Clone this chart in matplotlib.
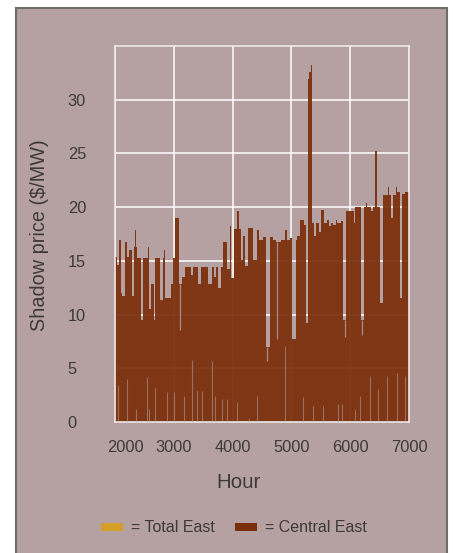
import numpy as np
import matplotlib
matplotlib.use("Agg")
import matplotlib.pyplot as plt
from matplotlib.patches import Rectangle
from matplotlib.transforms import ScaledTranslation

# hour at which each block starts, and the shadow price of Central East over that block
hours = [2000, 2028, 2062, 2102, 2119, 2164, 2210, 2244, 2289, 2323, 2346, 2357,
         2380, 2436, 2482, 2561, 2584, 2618, 2663, 2686, 2771, 2810, 2833, 2844,
         2856, 2946, 2980, 3014, 3094, 3139, 3184, 3298, 3320, 3411, 3468, 3581,
         3649, 3683, 3717, 3751, 3808, 3842, 3910, 3955, 3978, 4023, 4080, 4102,
         4148, 4176, 4216, 4261, 4352, 4420, 4454, 4510, 4561, 4635, 4692, 4737,
         4816, 4884, 4930, 4975, 5015, 5071, 5100, 5145, 5213, 5247, 5281, 5303,
         5332, 5349, 5383, 5411, 5468, 5508, 5553, 5598, 5638, 5666, 5712, 5751,
         5780, 5836, 5870, 5927, 6063, 6086, 6125, 6137, 6176, 6233, 6270, 6285,
         6358, 6392, 6426, 6448, 6505, 6550, 6640, 6660, 6686, 6720, 6780, 6795,
         6845, 6879, 6924]
central_east = [15.4, 14.6, 16.9, 12.0, 11.7, 16.8, 15.4, 16.0, 11.7, 16.3, 17.9, 16.3,
                15.3, 9.5, 15.3, 16.3, 10.5, 12.8, 9.5, 15.3, 11.4, 15.3, 16.0, 15.3,
                11.5, 12.8, 15.3, 19.0, 12.8, 13.5, 14.4, 13.7, 14.4, 12.8, 14.4, 12.8,
                14.4, 13.5, 14.4, 12.5, 14.4, 16.8, 14.2, 18.2, 13.4, 18.0, 19.6, 18.0,
                15.1, 17.3, 14.5, 18.1, 15.1, 17.9, 16.9, 17.2, 7.0, 17.2, 16.9, 16.8,
                16.9, 17.9, 16.9, 17.1, 7.7, 16.9, 17.3, 18.8, 18.3, 9.2, 31.9, 32.6,
                33.2, 18.5, 17.3, 18.5, 17.7, 19.7, 18.5, 18.8, 18.2, 18.5, 18.3, 18.8,
                18.5, 18.7, 9.5, 19.6, 18.5, 20.0, 20.3, 20.0, 9.5, 20.0, 20.4, 20.0,
                19.6, 20.0, 25.2, 20.0, 11.1, 21.1, 21.9, 21.1, 19.0, 21.1, 21.9, 21.4,
                11.5, 21.2, 21.4]
hour_end = 7000

# single hours where the price fell: low end of the dip
dip_hours = [3111, 4578, 4748, 5060, 5910, 6193]
dip_lows = [8.6, 5.7, 7.7, 7.7, 7.9, 8.1]

# single hours where the price stayed above zero: level it stayed above
floor_hours = [2051, 2204, 2363, 2538, 2584, 2686, 2884, 2997, 3167, 3309,
               3394, 3479, 3649, 3706, 3819, 3904, 4074, 4272, 4414, 4890,
               5190, 5372, 5542, 5797, 5853, 6080, 6165, 6335, 6477, 6618,
               6788, 6930]
floor_levels = [3.4, 4.0, 1.2, 4.2, 1.2, 3.2, 2.8, 2.8, 2.4, 5.8,
                2.9, 2.9, 5.7, 2.4, 2.1, 2.1, 1.9, 0.4, 2.4, 7.1,
                2.3, 1.5, 1.5, 1.7, 1.7, 1.2, 2.4, 4.3, 3.1, 4.3,
                4.6, 4.3]

xticks = [2000, 3000, 4000, 5000, 6000, 7000]
yticks = [0, 5, 10, 15, 20, 25, 30]

bg = "#b5a1a1"
brown = "#7a2e0a"
yellow = "#d4a02a"
txt = "#3e3a3a"

plt.rcParams["font.family"] = ["Liberation Sans", "DejaVu Sans"]

fig = plt.figure(figsize=(4.53, 5.53), dpi=100)
frame = Rectangle((16 / 453, -0.01), 431 / 453, 0.01 + 545 / 553,
                  transform=fig.transFigure, facecolor=bg,
                  edgecolor="#6e6e66", linewidth=1.5, zorder=-10)
fig.patches.append(frame)

ax = fig.add_axes([115 / 453, 131 / 553, 294 / 453, 376 / 553])
ax.set_zorder(1)
ax.set_facecolor(bg)

widths = np.diff(hours + [hour_end])
ax.bar(hours, central_east, width=widths, align="edge", color=brown,
       linewidth=0, alpha=0.93, zorder=2)

# thin light streaks where single hours differ from the block
idx = np.searchsorted(hours, dip_hours, side="right") - 1
dip_tops = np.array(central_east)[idx]
ax.vlines(dip_hours, dip_lows, dip_tops, color=bg, linewidth=0.9, alpha=0.8, zorder=3)
ax.vlines(floor_hours, 0, floor_levels, color=bg, linewidth=0.8, alpha=0.55, zorder=3)

ax.set_xlim(2000, 7000)
ax.set_ylim(0, 35)
ax.set_xticks(xticks)
ax.set_yticks(yticks)
ax.set_xticklabels([str(t) for t in xticks])
ax.set_yticklabels([str(t) for t in yticks])
ax.grid(True, color="white", linewidth=1.1, zorder=1)
ax.set_axisbelow(True)
for s in ax.spines.values():
    s.set_color("#efe9e9")
    s.set_linewidth(1.2)

ax.tick_params(axis="both", length=0, labelsize=11.8, labelcolor=txt)
ax.tick_params(axis="x", pad=13)
ax.tick_params(axis="y", pad=34)
for lab in ax.get_yticklabels():
    lab.set_horizontalalignment("left")
# first x label sits a bit to the right in the original
first = ax.get_xticklabels()[0]
first.set_transform(first.get_transform() + ScaledTranslation(0.1, 0, fig.dpi_scale_trans))

fig.text(239 / 453, 1 - 483 / 553, "Hour", ha="center", va="center",
         fontsize=14.8, color=txt)
fig.text(40 / 453, 1 - 235 / 553, "Shadow price ($/MW)", ha="center", va="center",
         rotation=90, fontsize=14.3, color=txt)

# legend
ly = 1 - 527 / 553
fig.patches.append(Rectangle((101 / 453, ly - 4 / 553), 22 / 453, 8 / 553,
                             transform=fig.transFigure, facecolor=yellow,
                             edgecolor="none"))
fig.text(131 / 453, ly, "= Total East", ha="left", va="center",
         fontsize=11.5, color=txt)
fig.patches.append(Rectangle((235 / 453, ly - 4 / 553), 22 / 453, 8 / 553,
                             transform=fig.transFigure, facecolor=brown,
                             edgecolor="none"))
fig.text(265 / 453, ly, "= Central East", ha="left", va="center",
         fontsize=11.5, color=txt)

fig.savefig("out.png", dpi=100, facecolor="white")
